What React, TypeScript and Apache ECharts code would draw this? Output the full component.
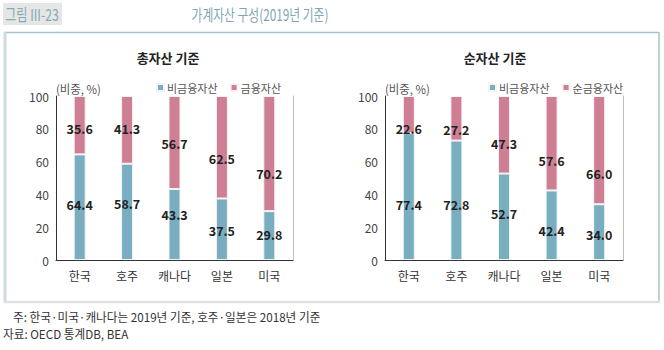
import React, { useEffect, useRef } from "react";
import * as echarts from "echarts";

const categories = ["한국", "호주", "캐나다", "일본", "미국"];
const yTicks = [0, 20, 40, 60, 80, 100];

const totalNonFin = [64.4, 58.7, 43.3, 37.5, 29.8];
const totalFin = [35.6, 41.3, 56.7, 62.5, 70.2];
const netNonFin = [77.4, 72.8, 52.7, 42.4, 34.0];
const netFin = [22.6, 27.2, 47.3, 57.6, 66.0];

// vertical label nudges (px) to mimic the original label placement
const totalNonFinNudge = [-3, -8, -10, 1, -1.5];
const totalFinNudge = [3, -1, 1.5, 11, 19.5];
const netNonFinNudge = [7.5, 3.7, -3, 5, 2];
const netFinNudge = [13.5, 10.7, 9, 17, 23];

const BLUE = "#79adc0";
const PINK = "#cf7f93";
const FONT = "'Noto Sans CJK KR', 'Noto Sans', sans-serif";

function items(vals: number[], nudges: number[]) {
  return vals.map((v, i) => ({ value: v, label: { offset: [0, nudges[i]] } }));
}

function barSeries(name: string, vals: number[], nudges: number[], color: string, idx: number, stack: string) {
  return {
    name,
    type: "bar",
    stack,
    xAxisIndex: idx,
    yAxisIndex: idx * 2,
    barWidth: 12,
    data: items(vals, nudges),
    itemStyle: { color, borderColor: "#f4f4f4", borderWidth: 1 },
    label: {
      show: true,
      position: "inside",
      color: "#222",
      fontSize: 12.5,
      fontWeight: "bold",
      fontFamily: FONT,
      formatter: (p: any) => Number(p.value).toFixed(1),
    },
  };
}

export default function App() {
  const ref = useRef<HTMLDivElement>(null);
  useEffect(() => {
    if (!ref.current) return;
    const chart = echarts.init(ref.current, null, { renderer: "svg" });
    const grids = [
      { left: 56, top: 96, width: 237, height: 164 },
      { left: 385, top: 96, width: 238, height: 164 },
    ];
    const xAxes = grids.map((_, i) => ({
      type: "category",
      gridIndex: i,
      data: categories,
      axisLine: { show: true, lineStyle: { color: "#333", width: 1 } },
      axisTick: { show: false },
      axisLabel: { color: "#333", fontSize: 12, margin: 9, fontFamily: FONT },
    }));
    const yAxes: any[] = [];
    grids.forEach((_, i) => {
      yAxes.push({
        type: "value",
        gridIndex: i,
        min: yTicks[0],
        max: yTicks[yTicks.length - 1],
        interval: 20,
        axisLine: { show: true, lineStyle: { color: "#333", width: 1 } },
        axisTick: { show: false },
        splitLine: { show: false },
        axisLabel: { color: "#444", fontSize: 12, margin: 7, fontFamily: FONT },
      });
      yAxes.push({
        type: "value",
        gridIndex: i,
        position: "right",
        min: 0,
        max: 100,
        interval: 20,
        axisLine: { show: true, lineStyle: { color: "#bdbdbd", width: 1 } },
        axisTick: { show: false },
        splitLine: { show: false },
        axisLabel: { show: false },
      });
    });
    const legendBase = {
      itemWidth: 7,
      itemHeight: 7,
      itemGap: 12,
      padding: 0,
      icon: "rect",
      textStyle: { color: "#555", fontSize: 11, fontFamily: FONT, padding: [0, 0, 0, -2] },
    };
    const text = (x: number, y: number, t: string, extra: any = {}, scaleX = 1) => ({
      type: "text",
      x,
      y,
      scaleX,
      style: {
        text: t,
        fill: "#333",
        fontSize: 12,
        fontFamily: FONT,
        textVerticalAlign: "middle",
        ...extra,
      },
    });
    chart.setOption({
      animation: false,
      backgroundColor: "#fff",
      grid: grids,
      xAxis: xAxes,
      yAxis: yAxes,
      legend: [
        { ...legendBase, left: 156, top: 82, data: ["비금융자산", "금융자산"] },
        { ...legendBase, left: 488, top: 82, data: ["비금융자산", "순금융자산"] },
      ],
      series: [
        barSeries("비금융자산", totalNonFin, totalNonFinNudge, BLUE, 0, "a"),
        barSeries("금융자산", totalFin, totalFinNudge, PINK, 0, "a"),
        barSeries("비금융자산", netNonFin, netNonFinNudge, BLUE, 1, "b"),
        barSeries("순금융자산", netFin, netFinNudge, PINK, 1, "b"),
      ],
      graphic: [
        { type: "rect", shape: { x: 3, y: 3, width: 59, height: 22 }, style: { fill: "#e6e6e6" } },
        text(5, 14, "그림 III-23", { fill: "#86a9b6", fontSize: 16.5 }, 0.74),
        text(260, 14, "가계자산 구성(2019년 기준)", { fill: "#7ea6b6", fontSize: 15.5, textAlign: "center" }, 0.76),
        { type: "line", shape: { x1: 4, y1: 32.5, x2: 659, y2: 32.5 }, style: { stroke: "#a6c4ce", lineWidth: 1.5 } },
        { type: "line", shape: { x1: 659, y1: 32, x2: 659, y2: 303 }, style: { stroke: "#a6c4ce", lineWidth: 1.5 } },
        { type: "line", shape: { x1: 5, y1: 32, x2: 5, y2: 303 }, style: { stroke: "#cddbe1", lineWidth: 3 } },
        { type: "line", shape: { x1: 4, y1: 302, x2: 660, y2: 302 }, style: { stroke: "#dbe3e7", lineWidth: 2.5 } },
        text(168, 57, "총자산 기준", { fontSize: 13, fontWeight: "bold", fill: "#222", textAlign: "center" }),
        text(495, 57, "순자산 기준", { fontSize: 13, fontWeight: "bold", fill: "#222", textAlign: "center" }),
        text(56, 88, "(비중, %)", { fill: "#555" }, 0.95),
        text(385, 88, "(비중, %)", { fill: "#555" }, 0.95),
        text(13, 316, "주: 한국·미국·캐나다는 2019년 기준, 호주·일본은 2018년 기준", { fill: "#333" }, 0.97),
        text(3, 333, "자료: OECD 통계DB, BEA", { fill: "#333" }, 0.97),
      ],
    });
    return () => chart.dispose();
  }, []);
  return (
    <div
      ref={ref}
      style={{ position: "fixed", left: 0, top: 0, width: 664, height: 350, background: "#fff" }}
    />
  );
}
